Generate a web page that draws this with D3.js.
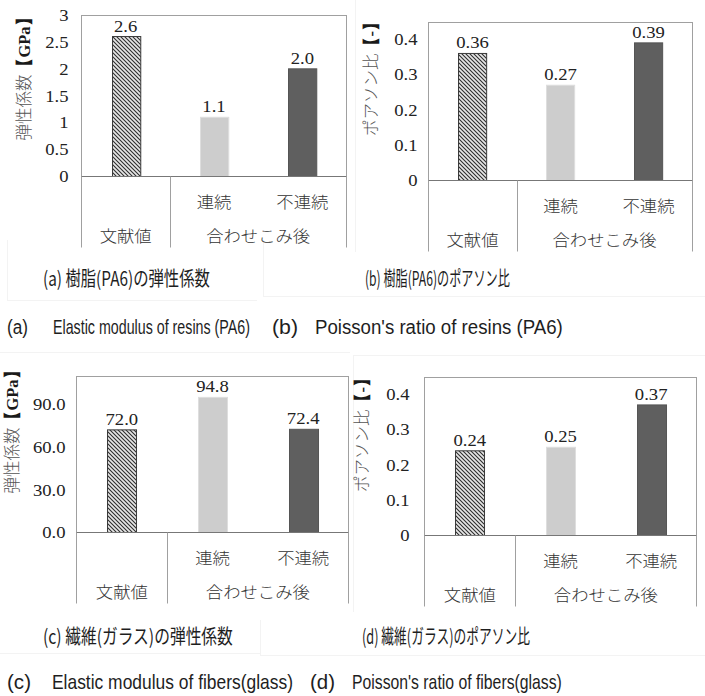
<!DOCTYPE html>
<html>
<head>
<meta charset="utf-8">
<script src="https://cdn.jsdelivr.net/npm/d3@7"></script>
<style>
  html, body { margin: 0; padding: 0; background: #fff; }
  svg { display: block; }
</style>
</head>
<body>
<svg id="chart" width="705" height="696"></svg>
<script>
// ---- data ----
const categories = ["文献値", "連続", "不連続"];
const rowOneLabels = ["", "連続", "不連続"];
const groupLabels = ["文献値", "合わせこみ後"];

const resinModulus = [2.6, 1.1, 2.0];     // GPa
const resinPoisson = [0.36, 0.27, 0.39];  // -
const fiberModulus = [72.0, 94.8, 72.4];  // GPa
const fiberPoisson = [0.24, 0.25, 0.37];  // -

const resinModulusTicks = [0, 0.5, 1, 1.5, 2, 2.5, 3];
const poissonTicks = [0, 0.1, 0.2, 0.3, 0.4];
const fiberModulusTicks = [0, 30, 60, 90];

const modulusLabel = ["弾性係数", "【GPa】"];
const poissonLabel = ["ポアソン比", "【-】"];

const captionsJa = ["(a) 樹脂(PA6)の弾性係数", "(b) 樹脂(PA6)のポアソン比",
                    "(c) 繊維(ガラス)の弾性係数", "(d) 繊維(ガラス)のポアソン比"];
const captionKeys = ["(a)", "(b)", "(c)", "(d)"];
const captionsEn = ["Elastic modulus of resins (PA6)", "Poisson's ratio of resins (PA6)",
                    "Elastic modulus of fibers(glass)", "Poisson's ratio of fibers(glass)"];

// ---- layout ----
const SERIF = "'Liberation Serif', 'Times New Roman', serif";
const CJK = "'Noto Sans CJK JP', 'Noto Sans', sans-serif";
const NARROW = "'Liberation Sans Narrow', 'Liberation Sans', Arial, sans-serif";

const svg = d3.select("#chart");

const defs = svg.append("defs");
const hatch = defs.append("pattern")
  .attr("id", "hatch").attr("patternUnits", "userSpaceOnUse")
  .attr("width", 4).attr("height", 4);
hatch.append("rect").attr("width", 4).attr("height", 4).attr("fill", "#e6e6e6");
hatch.append("path").attr("d", "M-1,-1 L5,5 M-1,3 L1,5 M3,-1 L5,1")
  .attr("stroke", "#2e2e2e").attr("stroke-width", 1.1);

const barFills = ["url(#hatch)", "#cdcdcd", "#5f5f5f"];
const barStrokes = ["#3a3a3a", "#dedede", "#555555"];

// faint outlines of the separate figure tiles
const tileLines = [
  [355.5, 0, 355.5, 252], [7.5, 240, 7.5, 300], [7, 300.5, 257, 300.5],
  [263.5, 240, 263.5, 296], [263, 296.5, 705, 296.5],
  [0, 352.5, 350, 352.5], [353, 355.5, 705, 355.5], [353.5, 355, 353.5, 612],
  [0, 653.5, 260, 653.5], [260.5, 620, 260.5, 655], [260, 655.5, 705, 655.5]
];
svg.append("g").selectAll("line").data(tileLines).join("line")
  .attr("x1", d => d[0]).attr("y1", d => d[1]).attr("x2", d => d[2]).attr("y2", d => d[3])
  .attr("stroke", "#f3f3f3").attr("stroke-width", 1);

// widen/narrow a text horizontally around its anchor point
function stretch(sel, sx) {
  sel.each(function () {
    const t = d3.select(this);
    const x = +t.attr("x") || 0, y = +t.attr("y") || 0;
    t.attr("x", null).attr("y", null)
      .attr("transform", `translate(${x},${y}) scale(${sx},1)`);
  });
}

// squeeze a left-anchored text so that it spans exactly [x0, x1]
function fitSpan(sel, spans) {
  sel.each(function (d, i) {
    const [x0, x1, y] = spans[i];
    const len = this.getComputedTextLength();
    d3.select(this).attr("x", null).attr("y", null)
      .attr("transform", `translate(${x0},${y}) scale(${(x1 - x0) / len},1)`);
  });
}

function drawPanel(p) {
  const g = svg.append("g");
  const L = Math.round(p.left) + 0.5, R = Math.round(p.right) + 0.5;
  const Z = Math.round(p.zero) + 0.5;

  const x = d3.scaleBand().domain(categories).range([L, R]).padding(0);
  const y = d3.scaleLinear().domain([0, p.yMax]).range([Z, p.top]);
  const T = Math.round(y(p.yMax)) + 0.5;

  // plot frame
  g.append("rect").attr("x", L).attr("y", T).attr("width", R - L).attr("height", Z - T)
    .attr("fill", "none").attr("stroke", "#a0a0a0").attr("stroke-width", 1);

  // bars
  const bw = x.bandwidth() * 0.32;
  g.selectAll("rect.bar").data(p.values).join("rect").attr("class", "bar")
    .attr("x", (d, i) => Math.round(x(categories[i]) + (x.bandwidth() - bw) / 2) + 0.5)
    .attr("y", d => y(d))
    .attr("width", bw)
    .attr("height", d => Z - y(d))
    .attr("fill", (d, i) => barFills[i])
    .attr("stroke", (d, i) => barStrokes[i]).attr("stroke-width", 1);

  // zero line
  g.append("line").attr("x1", L).attr("x2", R).attr("y1", Z).attr("y2", Z)
    .attr("stroke", "#777").attr("stroke-width", 1);

  // value labels
  g.selectAll("text.val").data(p.values).join("text").attr("class", "val")
    .attr("x", (d, i) => x(categories[i]) + x.bandwidth() / 2)
    .attr("y", d => y(d) - 5)
    .attr("text-anchor", "middle")
    .attr("font-family", SERIF).attr("font-size", 16.5).attr("fill", "#222")
    .text(d => d3.format(p.valueFormat)(d))
    .call(stretch, 1.13);

  // y axis labels
  const axis = d3.axisLeft(y).tickValues(p.ticks).tickSize(0)
    .tickPadding(p.pad).tickFormat(p.tickFormat);
  const ag = g.append("g").attr("transform", `translate(${L},0)`).call(axis);
  ag.select(".domain").remove();
  ag.selectAll("text").attr("font-family", SERIF).attr("font-size", 16.5).attr("fill", "#222")
    .call(stretch, 1.13);

  // y title
  const yt = g.append("text")
    .attr("transform", `translate(${p.labelX},${p.labelY}) rotate(-90)`)
    .attr("text-anchor", "middle").attr("dy", "0.35em")
    .attr("font-family", CJK).attr("font-size", 16.5);
  yt.append("tspan").attr("fill", "#555").attr("font-weight", 300).text(p.yLabel[0]);
  yt.append("tspan").attr("fill", "#1a1a1a").attr("font-weight", 700)
    .attr("font-family", SERIF).text(p.yLabel[1]);

  // category table below the axis
  const bottom = Z + 71;
  const divider = Math.round(x(categories[1])) + 0.5;
  g.selectAll("line.sep").data([L, divider, R]).join("line").attr("class", "sep")
    .attr("x1", d => d).attr("x2", d => d).attr("y1", Z).attr("y2", bottom)
    .attr("stroke", "#a0a0a0").attr("stroke-width", 1);

  g.selectAll("text.row1").data(rowOneLabels).join("text").attr("class", "row1")
    .attr("x", (d, i) => x(categories[i]) + x.bandwidth() / 2)
    .attr("y", Z + 26).attr("dy", "0.36em")
    .attr("text-anchor", "middle").attr("font-family", CJK).attr("font-weight", 300)
    .attr("font-size", 15.5).attr("fill", "#333")
    .text(d => d).call(stretch, 1.12);

  const groupCenters = [x(categories[0]) + x.bandwidth() / 2, (x(categories[1]) + R) / 2];
  g.selectAll("text.row2").data(groupLabels).join("text").attr("class", "row2")
    .attr("x", (d, i) => groupCenters[i])
    .attr("y", Z + 60).attr("dy", "0.36em")
    .attr("text-anchor", "middle").attr("font-family", CJK).attr("font-weight", 300)
    .attr("font-size", 15.5).attr("fill", "#333")
    .text(d => d).call(stretch, 1.12);
}

const panels = [
  { left: 81, right: 345.7, top: 15, zero: 176, yMax: 3, values: resinModulus,
    ticks: resinModulusTicks, tickFormat: d => String(d), valueFormat: ".1f", pad: 13,
    yLabel: modulusLabel, labelX: 24, labelY: 75 },
  { left: 427.7, right: 692.3, top: 21.7, zero: 180, yMax: 0.45, values: resinPoisson,
    ticks: poissonTicks, tickFormat: d => String(d), valueFormat: ".2f", pad: 11,
    yLabel: poissonLabel, labelX: 371, labelY: 75 },
  { left: 76, right: 347.7, top: 375.7, zero: 532.3, yMax: 110, values: fiberModulus,
    ticks: fiberModulusTicks, tickFormat: d3.format(".1f"), valueFormat: ".1f", pad: 11,
    yLabel: modulusLabel, labelX: 12, labelY: 428 },
  { left: 424, right: 695.7, top: 376.7, zero: 535, yMax: 0.45, values: fiberPoisson,
    ticks: poissonTicks, tickFormat: d => String(d), valueFormat: ".2f", pad: 15,
    yLabel: poissonLabel, labelX: 362, labelY: 431 }
];
panels.forEach(drawPanel);

// captions
const jaSpans = [[43, 210, 286], [365, 510, 286], [43, 233, 644], [362, 530, 644]];
svg.append("g").selectAll("text").data(captionsJa).join("text")
  .attr("font-family", CJK).attr("font-size", 20).attr("font-weight", 400).attr("fill", "#1e1e1e")
  .text(d => d)
  .call(fitSpan, jaSpans);

const keySpans = [[7, 28, 334], [272, 298, 334], [7, 31, 689], [310, 335, 689]];
const capSpans = [[53, 250, 334], [315, 563, 334], [52, 293, 689], [352, 562, 689]];
const en = svg.append("g").attr("font-family", NARROW).attr("font-size", 20).attr("fill", "#1e1e1e");
en.selectAll("text.key").data(captionKeys).join("text").attr("class", "key")
  .text(d => d).call(fitSpan, keySpans);
en.selectAll("text.cap").data(captionsEn).join("text").attr("class", "cap")
  .text(d => d).call(fitSpan, capSpans);
</script>
</body>
</html>
